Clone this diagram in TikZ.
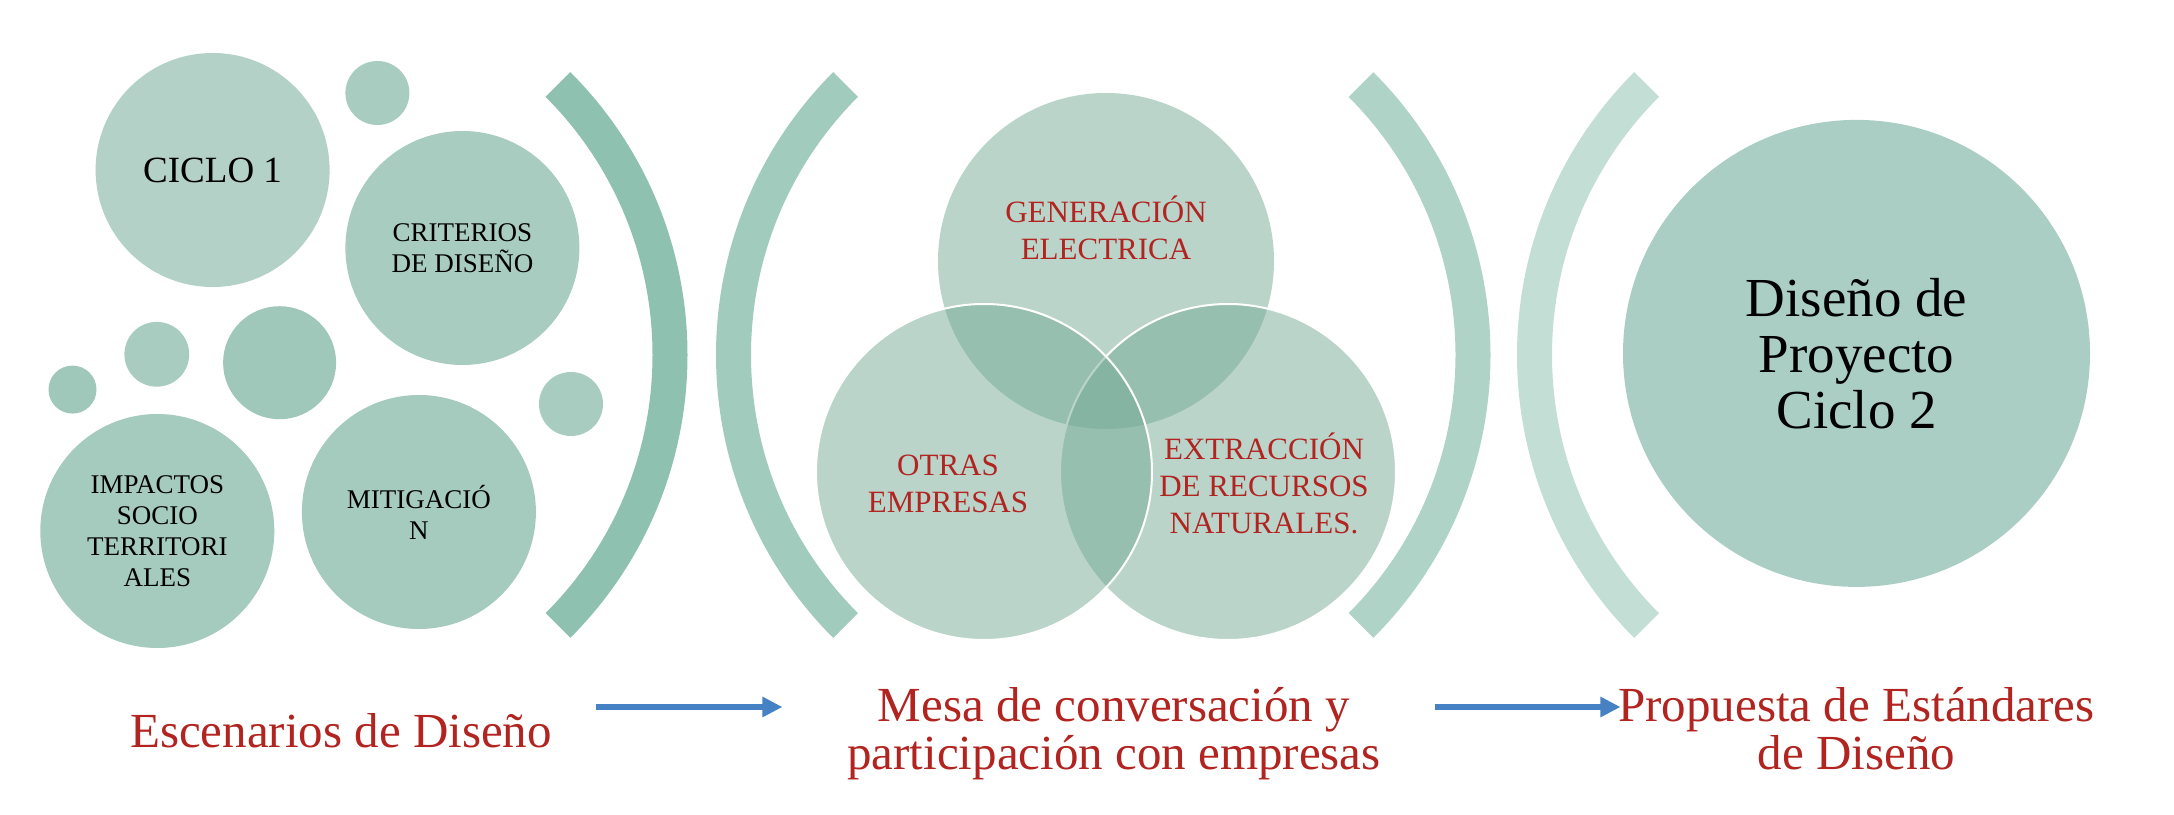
\documentclass[tikz,border=0pt]{standalone}
\usepackage{fontspec}
\setmainfont{Liberation Serif}
\usepackage{xcolor}
\definecolor{cBubbleA}{HTML}{B3D1C6}
\definecolor{cBubbleB}{HTML}{A9CCC0}
\definecolor{cBubbleC}{HTML}{A5CABE}
\definecolor{cBubbleD}{HTML}{A0C8BA}
\definecolor{cBandA}{HTML}{8FC1B1}
\definecolor{cBandB}{HTML}{A1CBBD}
\definecolor{cBandC}{HTML}{B0D3C8}
\definecolor{cBandD}{HTML}{C2DED5}
\definecolor{cVenn}{RGB}{118,171,151}
\definecolor{cGoal}{HTML}{AACEC3}
\definecolor{cText}{HTML}{B22420}
\definecolor{cFlow}{HTML}{4681C3}
\usetikzlibrary{positioning,arrows.meta,calc}
\tikzset{
  node-bubble/.style={circle,inner sep=0pt,minimum size=117pt,align=center,
    font=\fontsize{13.5}{15.5}\selectfont},
  node-dot/.style={circle,inner sep=0pt,minimum size=#1},
  % conjuntos del Venn: relleno translúcido, las intersecciones se oscurecen solas
  node-venn/.style={circle,inner sep=0pt,minimum size=168pt,fill=cVenn,
    fill opacity=0.5},
  node-venn-text/.style={inner sep=0pt,align=center,text=cText,
    font=\fontsize{15.5}{18.5}\selectfont},
  node-goal/.style={circle,inner sep=0pt,minimum size=233.5pt,fill=cGoal,
    align=center,font=\fontsize{27.5}{28}\selectfont},
  label-step/.style={inner sep=0pt,align=center,text=cText,
    font=\fontsize{24.5}{24.2}\selectfont},
  arrow-flow/.style={-{Triangle[length=10pt,width=9.6pt]},line width=3.35pt,
    draw=cFlow},
}
\begin{document}
\begin{tikzpicture}[x=0.5pt,y=0.5pt]
  \fill[white] (0,0) rectangle (2174,814);
  \useasboundingbox (0,0) rectangle (2174,814);
  % escenarios
  \node[node-bubble,fill=cBubbleA,font=\fontsize{18.5}{20}\selectfont] (ciclo) at (212.6,644) {CICLO 1};
  \node[node-dot=32pt,fill=cBubbleB] (dotA) at (377.4,721) {};
  \node[node-bubble,fill=cBubbleB] (criterios) at (462.4,566) {CRITERIOS\\DE DISEÑO};
  \node[node-dot=56.5pt,fill=cBubbleD] (dotB) at (279.6,451.3) {};
  \node[node-dot=32.4pt,fill=cBubbleB] (dotC) at (156.8,459.7) {};
  \node[node-dot=24pt,fill=cBubbleD] (dotD) at (72.5,424.4) {};
  \node[node-bubble,fill=cBubbleC] (impactos) at (157.3,283) {IMPACTOS\\SOCIO\\TERRITORI\\ALES};
  \node[node-bubble,fill=cBubbleC] (mitigacion) at (418.9,302) {MITIGACIÓ\\N};
  \node[node-dot=32pt,fill=cBubbleB] (dotE) at (571,410) {};
  % parentesis
  \fill[cBandA] (287.5,459) ++(-45:365) arc[start angle=-45,end angle=45,radius=365]
    -- ++(45:35) arc[start angle=45,end angle=-45,radius=400] -- cycle;
  \fill[cBandB] (1116,459) ++(135:365) arc[start angle=135,end angle=225,radius=365]
    -- ++(225:35) arc[start angle=225,end angle=135,radius=400] -- cycle;
  \fill[cBandC] (1090.5,459) ++(-45:365) arc[start angle=-45,end angle=45,radius=365]
    -- ++(45:35) arc[start angle=45,end angle=-45,radius=400] -- cycle;
  \fill[cBandD] (1917,459) ++(135:365) arc[start angle=135,end angle=225,radius=365]
    -- ++(225:35) arc[start angle=225,end angle=135,radius=400] -- cycle;
  % mesa con empresas
  \node[node-venn] (gen) at (1106,553) {};
  \node[node-venn,draw=white,line width=1pt] (ext) at (1228,342) {};
  \node[node-venn,draw=white,line width=1pt] (otras) at (984,342) {};
  \node[node-venn-text] (gentxt) at (1106,586) {GENERACIÓN\\ELECTRICA};
  \node[node-venn-text] (otrastxt) at (948,330) {OTRAS\\EMPRESAS};
  \node[node-venn-text] (exttxt) at (1264,331) {EXTRACCIÓN\\DE RECURSOS\\NATURALES.};
  % propuesta
  \node[node-goal] (goal) at (1856.5,460.6) {Diseño de\\Proyecto\\Ciclo 2};
  \node[label-step,anchor=base] (esc) at (341,66.7) {Escenarios de Diseño};
  \node[label-step] (mesa) at (1114,80.5) {Mesa de conversación y\\participación con empresas};
  \node[label-step] (prop) at (1856.5,85.3) {Propuesta de Estándares\\de Diseño};
  \coordinate (flowrow) at (0,107);
  \draw[arrow-flow] ($(esc.east |- flowrow)+(43.5,0)$) -- ($(mesa.west |- flowrow)+(-64.5,0)$);
  \draw[arrow-flow] ($(mesa.east |- flowrow)+(53.5,0)$) -- ($(prop.west |- flowrow)+(2.5,0)$);
\end{tikzpicture}
\end{document}
